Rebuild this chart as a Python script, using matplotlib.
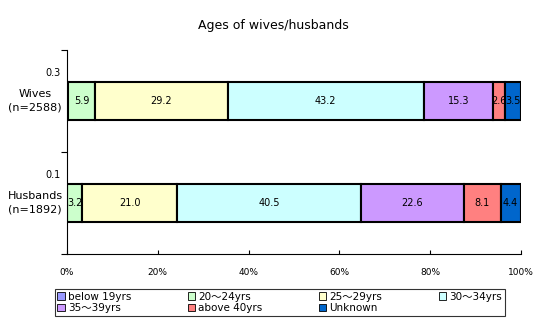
import numpy as np
import matplotlib.pyplot as plt
from matplotlib.transforms import blended_transform_factory

plt.rcParams['font.family'] = ['DejaVu Sans', 'Noto Sans CJK JP']

groups = ['Husbands\n(n=1892)', 'Wives\n(n=2588)']
age_labels = ['below 19yrs', '20～24yrs', '25～29yrs', '30～34yrs',
              '35～39yrs', 'above 40yrs', 'Unknown']
husbands = [0.1, 3.2, 21.0, 40.5, 22.6, 8.1, 4.4]
wives = [0.3, 5.9, 29.2, 43.2, 15.3, 2.6, 3.5]
colors = ['#9999FF', '#CCFFCC', '#FFFFCC', '#CCFFFF', '#CC99FF', '#FF8080', '#0066CC']

values = np.array([husbands, wives])

fig = plt.figure(figsize=(5.47, 3.24), dpi=100)
ax = fig.add_axes([0.1225, 0.216, 0.83, 0.63])

ypos = np.arange(len(groups))
left = np.zeros(len(groups))
handles = []
for i, lab in enumerate(age_labels):
    vals = values[:, i]
    bars = ax.barh(ypos, vals, left=left, height=0.38, color=colors[i],
                   edgecolor='black', linewidth=1.5, label=lab)
    handles.append(bars)
    for j, v in enumerate(vals):
        if i == 0:
            # tiny segment: label sits above the bar, left of the axis
            ax.text(-1.5, ypos[j] + 0.27, f'{v:.1f}', ha='right', va='center', fontsize=7)
        else:
            ax.text(left[j] + v / 2, ypos[j], f'{v:.1f}', ha='center', va='center', fontsize=7)
    left = left + vals

ax.set_xlim(0, 100)
ax.set_ylim(-0.5, 1.5)
ax.set_xticks(np.arange(0, 101, 20))
ax.set_xticklabels([f'{t}%' for t in range(0, 101, 20)], fontsize=6.5)
ax.tick_params(axis='x', direction='in', length=3, pad=10)
ax.set_yticks([-0.5, 0.5, 1.5])
ax.set_yticklabels([])
ax.tick_params(axis='y', direction='out', length=4)

trans = blended_transform_factory(fig.transFigure, ax.transData)
for j, g in enumerate(groups):
    ax.text(35 / 547, ypos[j], g, transform=trans, ha='center', va='center',
            fontsize=8, linespacing=1.5, multialignment='center')

ax.spines['top'].set_visible(False)
ax.spines['right'].set_visible(False)

fig.text(0.5, 0.92, 'Ages of wives/husbands', ha='center', va='center', fontsize=9)

# legend filled row by row, as in the reference
order = [0, 4, 1, 5, 2, 6, 3]
leg = fig.legend([handles[k] for k in order], [age_labels[k] for k in order],
                 loc='lower left', bbox_to_anchor=(0.1, 0.025, 0.823, 0.1),
                 ncol=4, mode='expand', fontsize=7.5, frameon=True, fancybox=False,
                 edgecolor='black', handlelength=0.7, handleheight=0.7,
                 handletextpad=0.3, borderpad=0.25, labelspacing=0.15,
                 borderaxespad=0)
leg.get_frame().set_linewidth(0.8)
for h in leg.legend_handles:
    h.set_linewidth(0.6)

fig.savefig('out.png', dpi=100)
